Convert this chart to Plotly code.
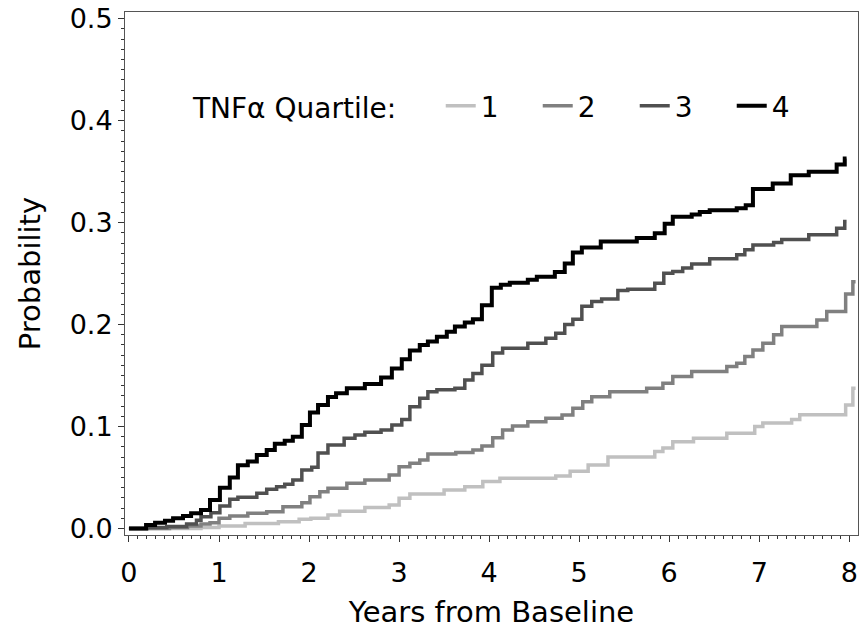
import plotly.graph_objects as go

# Cumulative incidence step curves by TNF-alpha quartile (years, probability)
q1_years = [0, 0.80, 1.00, 1.29, 1.66, 1.89, 2.02, 2.21, 2.34, 2.62, 2.89, 3.00, 3.12, 3.50, 3.73,
            3.93, 4.12, 4.74, 4.90, 5.10, 5.32, 5.84, 5.93, 6.04, 6.27, 6.64, 6.95, 7.04, 7.36,
            7.45, 7.96, 8.04, 8.07]
q1_prob = [0, 0.001, 0.0025, 0.005, 0.0067, 0.009, 0.010, 0.0132, 0.017, 0.0205, 0.023, 0.0296,
           0.0339, 0.0378, 0.041, 0.046, 0.0493, 0.0515, 0.0562, 0.0623, 0.070, 0.0755, 0.079,
           0.085, 0.0885, 0.0934, 0.100, 0.1035, 0.107, 0.1115, 0.121, 0.1376, 0.1376]

q2_years = [0, 0.45, 0.65, 0.80, 0.90, 1.00, 1.12, 1.32, 1.53, 1.71, 1.92, 2.01, 2.12, 2.21, 2.42,
            2.62, 2.89, 3.00, 3.12, 3.23, 3.32, 3.63, 3.82, 3.92, 4.04, 4.15, 4.26, 4.43, 4.63,
            4.81, 4.93, 5.04, 5.14, 5.34, 5.75, 5.93, 6.04, 6.25, 6.64, 6.75, 6.84, 6.93, 7.04,
            7.16, 7.25, 7.64, 7.75, 7.96, 8.04, 8.07]
q2_prob = [0, 0.001, 0.0025, 0.0044, 0.0057, 0.010, 0.0123, 0.015, 0.0165, 0.0214, 0.0253, 0.031,
           0.036, 0.0394, 0.0443, 0.0476, 0.0525, 0.0606, 0.064, 0.0672, 0.073, 0.0744, 0.077,
           0.081, 0.089, 0.0967, 0.1006, 0.1048, 0.1081, 0.1114, 0.118, 0.1244, 0.1293, 0.134,
           0.1376, 0.1425, 0.149, 0.1539, 0.1588, 0.162, 0.1686, 0.175, 0.1817, 0.190, 0.198,
           0.2046, 0.2128, 0.230, 0.242, 0.242]

q3_years = [0, 0.20, 0.42, 0.64, 0.75, 0.80, 0.91, 1.01, 1.12, 1.21, 1.42, 1.53, 1.64, 1.73, 1.82,
            1.92, 2.03, 2.10, 2.21, 2.39, 2.51, 2.62, 2.80, 2.92, 3.03, 3.12, 3.23, 3.32, 3.42,
            3.62, 3.73, 3.82, 3.92, 4.04, 4.15, 4.43, 4.63, 4.74, 4.84, 4.93, 5.03, 5.14, 5.25,
            5.43, 5.54, 5.84, 5.94, 6.04, 6.15, 6.25, 6.45, 6.75, 6.84, 6.93, 7.16, 7.25, 7.55,
            7.86, 7.95, 7.97]
q3_prob = [0, 0.001, 0.002, 0.0045, 0.008, 0.0116, 0.0155, 0.022, 0.0286, 0.0306, 0.0345, 0.0385,
           0.041, 0.0435, 0.0476, 0.0574, 0.060, 0.074, 0.082, 0.0885, 0.0918, 0.0944, 0.0967,
           0.1016, 0.107, 0.1195, 0.1278, 0.134, 0.136, 0.1376, 0.1457, 0.152, 0.160, 0.172,
           0.1768, 0.1817, 0.1866, 0.1915, 0.200, 0.2053, 0.218, 0.2226, 0.225, 0.2334, 0.2347,
           0.2406, 0.2504, 0.252, 0.2555, 0.2593, 0.2645, 0.2684, 0.2733, 0.278, 0.2805, 0.2835,
           0.288, 0.2946, 0.301, 0.301]

q4_years = [0, 0.19, 0.29, 0.40, 0.49, 0.60, 0.69, 0.80, 0.90, 1.01, 1.12, 1.21, 1.32, 1.42, 1.53,
            1.62, 1.73, 1.82, 1.92, 2.01, 2.10, 2.21, 2.30, 2.42, 2.62, 2.80, 2.92, 3.03, 3.12,
            3.23, 3.32, 3.42, 3.53, 3.62, 3.73, 3.82, 3.92, 4.03, 4.13, 4.23, 4.43, 4.53, 4.73,
            4.84, 4.93, 5.03, 5.24, 5.64, 5.84, 5.95, 6.04, 6.25, 6.34, 6.45, 6.75, 6.85, 6.93,
            7.15, 7.35, 7.55, 7.86, 7.95, 7.97]
q4_prob = [0, 0.0034, 0.0057, 0.0077, 0.010, 0.0123, 0.0149, 0.018, 0.028, 0.040, 0.050, 0.062,
           0.0656, 0.072, 0.077, 0.083, 0.086, 0.090, 0.1016, 0.1137, 0.121, 0.129, 0.1327,
           0.1376, 0.1418, 0.148, 0.157, 0.166, 0.1745, 0.180, 0.1833, 0.188, 0.193, 0.198,
           0.202, 0.2053, 0.219, 0.236, 0.239, 0.241, 0.244, 0.2468, 0.2515, 0.260, 0.2707,
           0.2755, 0.2815, 0.2848, 0.2897, 0.299, 0.3057, 0.308, 0.3105, 0.3122, 0.3142, 0.317,
           0.333, 0.3385, 0.3465, 0.350, 0.357, 0.363, 0.363]

quartile_names = ["1", "2", "3", "4"]
quartile_colors = ["#c0c0c0", "#808080", "#505050", "#000000"]
quartile_widths = [3.5, 3.5, 3.5, 4]
series = [(q1_years, q1_prob), (q2_years, q2_prob), (q3_years, q3_prob), (q4_years, q4_prob)]

FONT = "DejaVu Sans"
TICK_SIZE = 27
TITLE_SIZE = 29
LEGEND_SIZE = 28

fig = go.Figure()
for name, color, lw, (xs, ys) in zip(quartile_names, quartile_colors, quartile_widths, series):
    fig.add_trace(go.Scatter(
        x=xs, y=ys, name=name, mode="lines",
        line=dict(shape="hv", color=color, width=lw),
    ))

axis_common = dict(
    showgrid=False, zeroline=False, showline=True, mirror=True,
    linecolor="#555555", linewidth=1,
    ticks="outside", tickcolor="#333333", tickwidth=1, ticklen=6,
    tickfont=dict(family=FONT, size=TICK_SIZE, color="#000000"),
)

fig.update_xaxes(
    range=[-0.044, 8.097], tickmode="linear", tick0=0, dtick=1,
    minor=dict(dtick=0.1, ticks="outside", ticklen=3, tickcolor="#333333"),
    ticklabelstandoff=8,
    title=dict(text="Years from Baseline", standoff=14,
               font=dict(family=FONT, size=TITLE_SIZE, color="#000000")),
    automargin=False,
    **axis_common,
)
fig.update_yaxes(
    range=[-0.0064, 0.5066], tickmode="linear", tick0=0, dtick=0.1, tickformat=".1f",
    minor=dict(dtick=0.01, ticks="outside", ticklen=3, tickcolor="#333333"),
    title=dict(text="Probability", standoff=20,
               font=dict(family=FONT, size=TITLE_SIZE, color="#000000")),
    automargin=False,
    **axis_common,
)

fig.update_layout(
    width=866, height=633,
    margin=dict(l=125, r=8, t=12, b=98),
    paper_bgcolor="white", plot_bgcolor="white",
    font=dict(family=FONT, size=TICK_SIZE, color="#000000"),
    showlegend=True,
    legend=dict(
        orientation="h", x=0.090, xanchor="left", y=0.820, yanchor="middle",
        title=dict(text="TNFα Quartile:\u00a0\u00a0\u00a0\u00a0",
                   font=dict(family=FONT, size=LEGEND_SIZE, color="#000000")),
        font=dict(family=FONT, size=LEGEND_SIZE, color="#000000"),
        bgcolor="rgba(0,0,0,0)", borderwidth=0,
        entrywidth=52, entrywidthmode="pixels",
    ),
)

fig.write_html("out.html")
